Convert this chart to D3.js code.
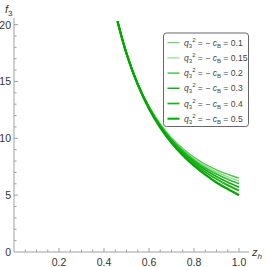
<!DOCTYPE html>
<html><head><meta charset="utf-8">
<script src="https://cdn.jsdelivr.net/npm/d3@7"></script>
<style>body{margin:0;background:#fff}svg{display:block}text{font-family:"Liberation Sans",Arial,sans-serif}</style>
</head><body>
<script>
const zValues = [0.46, 0.5, 0.55, 0.6, 0.65, 0.7, 0.75, 0.8, 0.85, 0.9, 0.95, 1.0];
const f_q01  = [20.3, 17.48, 14.82, 12.81, 11.27, 10.06, 9.11, 8.34, 7.72, 7.23, 6.83, 6.50];
const f_q015 = [20.3, 17.48, 14.80, 12.78, 11.21, 9.98, 9.01, 8.22, 7.57, 7.04, 6.61, 6.25];
const f_q02  = [20.3, 17.47, 14.78, 12.75, 11.16, 9.91, 8.91, 8.09, 7.41, 6.86, 6.39, 6.00];
const f_q03  = [20.3, 17.47, 14.76, 12.71, 11.10, 9.82, 8.79, 7.94, 7.23, 6.64, 6.13, 5.70];
const f_q04  = [20.3, 17.46, 14.74, 12.67, 11.04, 9.73, 8.67, 7.79, 7.04, 6.42, 5.87, 5.40];
const f_q05  = [20.3, 17.45, 14.72, 12.61, 10.95, 9.61, 8.52, 7.59, 6.80, 6.12, 5.53, 5.00];
const seriesLabels = ["0.1", "0.15", "0.2", "0.3", "0.4", "0.5"];
const xTicks = [0.2, 0.4, 0.6, 0.8, 1.0];
const yTicks = [0, 5, 10, 15, 20];

const seriesData = [f_q01, f_q015, f_q02, f_q03, f_q04, f_q05];
const colors = ["#4cc44c", "#90dc90", "#30bb30", "#1aaa1a", "#22b022", "#00a800"];
const widths = [1.0, 1.2, 1.3, 1.5, 1.7, 2.0];

const W = 267, H = 267;
const svg = d3.select("body").append("svg").attr("width", W).attr("height", H);
const x = d3.scaleLinear().domain([0, 1]).range([14, 239]);
const y = d3.scaleLinear().domain([0, 20]).range([252, 24.6]);

const axisColor = "#a0a0a0";
// axes lines
svg.append("line").attr("x1", 14).attr("x2", 249).attr("y1", 252).attr("y2", 252).attr("stroke", axisColor).attr("stroke-width", 1);
svg.append("line").attr("x1", 14).attr("x2", 14).attr("y1", 252).attr("y2", 18).attr("stroke", axisColor).attr("stroke-width", 1);
// x ticks
d3.range(0.05, 1.001, 0.05).forEach(v => {
  const major = Math.abs(v * 5 - Math.round(v * 5)) < 1e-6;
  svg.append("line").attr("x1", x(v)).attr("x2", x(v)).attr("y1", 252).attr("y2", 252 - (major ? 4 : 2.5)).attr("stroke", axisColor);
});
d3.range(1, 21, 1).forEach(v => {
  const major = v % 5 === 0;
  svg.append("line").attr("x1", 14).attr("x2", 14 + (major ? 4 : 2.5)).attr("y1", y(v)).attr("y2", y(v)).attr("stroke", axisColor);
});
xTicks.forEach(v => {
  svg.append("text").attr("x", x(v)).attr("y", 266).attr("text-anchor", "middle").attr("font-size", 10.5).attr("fill", "#333").text(v.toFixed(1));
});
yTicks.forEach(v => {
  svg.append("text").attr("x", 11).attr("y", y(v) + 4).attr("text-anchor", "end").attr("font-size", 10.5).attr("fill", "#333").text(v);
});
// axis labels
const fl = svg.append("text").attr("x", 5).attr("y", 13).attr("font-size", 11).attr("fill", "#333");
fl.append("tspan").attr("font-style", "italic").text("f");
fl.append("tspan").attr("font-size", 8).attr("dy", 3).text("3");
const zl = svg.append("text").attr("x", 252).attr("y", 256).attr("font-size", 11).attr("fill", "#333");
zl.append("tspan").attr("font-style", "italic").text("z");
zl.append("tspan").attr("font-size", 8).attr("font-style", "italic").attr("dy", 3).text("h");

// curves
const line = d3.line().x(d => x(d[0])).y(d => y(d[1])).curve(d3.curveCatmullRom);
seriesData.forEach((s, i) => {
  svg.append("path").datum(zValues.map((z, j) => [z, s[j]]))
    .attr("d", line).attr("fill", "none").attr("stroke", colors[i]).attr("stroke-width", widths[i] + 0.3);
});

// legend
const lg = svg.append("g");
lg.append("rect").attr("x", 163.5).attr("y", 33).attr("width", 85).attr("height", 93.5).attr("rx", 3)
  .attr("fill", "#fff").attr("stroke", "#555").attr("stroke-width", 0.9);
seriesLabels.forEach((lab, i) => {
  const yy = 42.7 + i * 15.2;
  lg.append("line").attr("x1", 167.5).attr("x2", 179.5).attr("y1", yy).attr("y2", yy).attr("stroke", colors[i]).attr("stroke-width", widths[i]);
  const t = lg.append("text").attr("x", 184).attr("y", yy + 3).attr("font-size", 8.6).attr("fill", "#444");
  t.append("tspan").attr("font-style", "italic").text("q");
  t.append("tspan").attr("font-size", 6).attr("dy", 2).text("3");
  t.append("tspan").attr("font-size", 6).attr("dy", -6).text("2");
  t.append("tspan").attr("dy", 4).text(" = \u2212 ");
  t.append("tspan").attr("font-style", "italic").text("c");
  t.append("tspan").attr("font-size", 6).attr("dy", 2).text("B");
  t.append("tspan").attr("dy", -2).text(" = " + lab);
});
</script>
</body></html>
